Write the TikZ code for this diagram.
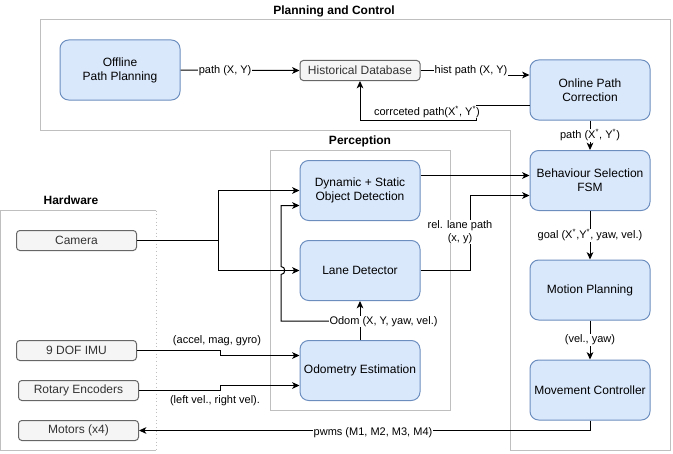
\documentclass[tikz,border=0pt]{standalone}
\usepackage{fontspec}
\setmainfont{Liberation Sans}
\usetikzlibrary{arrows.meta,calc}
\definecolor{bluefill}{HTML}{DAE8FC}
\definecolor{blueline}{HTML}{6C8EBF}
\definecolor{grayfill}{HTML}{F5F5F5}
\definecolor{grayline}{HTML}{666666}
\definecolor{graytext}{HTML}{333333}
\definecolor{contline}{HTML}{BFBFBF}
\tikzset{
  bluebox/.style={draw=blueline, fill=bluefill, rounded corners=6.5pt, line width=0.75pt,
    minimum width=90pt, minimum height=45pt, inner sep=0pt, align=center,
    font=\fontsize{9}{10.5}\selectfont},
  graybox/.style={draw=grayline, fill=grayfill, rounded corners=2.5pt, line width=0.75pt,
    minimum width=90pt, minimum height=15pt, inner sep=0pt, align=center, text=graytext,
    font=\fontsize{9}{10.5}\selectfont},
  cont/.style={draw=contline, line width=0.75pt},
  title/.style={font=\bfseries\fontsize{9}{10.5}\selectfont},
  arr/.style={draw=black, line width=0.75pt, -{Stealth[length=5.5pt,width=5pt,inset=1.5pt]}},
  ln/.style={draw=black, line width=0.75pt},
  lbl/.style={fill=white, inner sep=0.6pt, align=center, font=\fontsize{8.25}{9.5}\selectfont},
}
\newcommand{\st}{\textsuperscript{*}}
\begin{document}
\begin{tikzpicture}[x=0.75pt, y=-0.75pt]
\useasboundingbox (0,0) rectangle (673,453);
% containers
\draw[cont] (40,20) -- (670,20) -- (670,450) -- (510,450) -- (510,130.5) -- (40,130.5) -- cycle;
\draw[cont] (270.5,150.5) rectangle (450.5,410);
\draw[cont] (156,210.5) -- (0.5,210.5) -- (0.5,450) -- (156,450);
\draw[cont, dotted] (156,210.5) -- (156,450);
\node[title] (tpc) at (334,11) {Planning and Control};
\node[title] (tper) at (360,141) {Perception};
\node[title] (thw) at (71,200.5) {Hardware};
% nodes
\node[bluebox] (off) at (120,70) {Offline\\Path Planning};
\node[graybox] (db) at (360,70.5) {Historical Database};
\node[bluebox] (onl) at (590,90) {Online Path\\Correction};
\node[bluebox] (beh) at (590,180.5) {Behaviour Selection\\FSM};
\node[bluebox] (mot) at (590,290) {Motion Planning};
\node[bluebox] (mov) at (590,390) {Movement Controller};
\node[bluebox] (obj) at (360,190.5) {Dynamic + Static\\Object Detection};
\node[bluebox] (lane) at (360,270.5) {Lane Detector};
\node[bluebox] (odo) at (360,370.5) {Odometry Estimation};
\node[graybox] (cam) at (76.5,240.5) {Camera};
\node[graybox] (imu) at (76.5,350.5) {9 DOF IMU};
\node[graybox] (rot) at (78.5,390.5) {Rotary Encoders};
\node[graybox] (mtr) at (78.5,430.5) {Motors (x4)};
% junction coordinates
\coordinate (jdb) at (470,70.5);
\coordinate (jdb2) at (470,75);
\coordinate (jc1) at (476,105);
\coordinate (jc2) at (476,120);
\coordinate (jc3) at (360,120);
\coordinate (jmv) at (590,430.5);
\coordinate (jcam) at (218,240.5);
\coordinate (jod) at (360,321);
\coordinate (jod1) at (281,321);
\coordinate (jh1) at (281,274.5);
\coordinate (jh2) at (281,266.5);
\coordinate (jod2) at (281,205.5);
\coordinate (jl1) at (470,270.5);
\coordinate (jl2) at (470,195.5);
\coordinate (ji1) at (220,350.5);
\coordinate (ji2) at (220,355.5);
\coordinate (jr1) at (220,390.5);
\coordinate (jr2) at (220,385.5);
% edges
\draw[arr] (off.east) -- node[lbl, pos=0.375] (l1) {path (X, Y)} (db.west);
\draw[arr] (db.east) -- (jdb) -- (jdb2) -- ($(onl.west)+(0,-15)$);
\node[lbl] (l2) at (471,71) {hist path (X, Y)};
\draw[arr] ($(onl.west)+(0,15)$) -- (jc1) -- (jc2) -- (jc3) -- (db.south);
\node[lbl] (l3) at (427,112) {corrceted path(X\st, Y\st)};
\draw[arr] (onl.south) -- node[lbl] (l4) {path (X\st, Y\st)} (beh.north);
\draw[arr] (beh.south) -- node[lbl] (l5) {goal (X\st,Y\st, yaw, vel.)} (mot.north);
\draw[arr] (mot.south) -- node[lbl] (l6) {(vel., yaw)} (mov.north);
\draw[arr] (mov.south) -- (jmv) -- (mtr.east);
\node[lbl] (l7) at (373,432.5) {pwms (M1, M2, M3, M4)};
\draw[arr] (cam.east) -- (jcam) |- (obj.west);
\draw[arr] (jcam) |- (lane.west);
\draw[arr] (odo.north) -- (lane.south);
\draw[arr] (jod) -- (jod1) -- (jh1) .. controls (286,274.5) and (286,266.5) .. (jh2) -- (jod2) -- ($(obj.west)+(0,15)$);
\node[lbl] (l8) at (383.5,321.5) {Odom (X, Y, yaw, vel.)};
\draw[arr] ($(obj.east)+(0,-15)$) -- ($(beh.west)+(0,-5)$);
\draw[arr] (lane.east) -- (jl1) -- (jl2) -- ($(beh.west)+(0,15)$);
\node[lbl] (l9) at (460,232) {rel. lane path\\(x, y)};
\draw[arr] (imu.east) -- (ji1) -- (ji2) -- ($(odo.west)+(0,-15)$);
\node[lbl] (l10) at (217,340.5) {(accel, mag, gyro)};
\draw[arr] (rot.east) -- (jr1) -- (jr2) -- ($(odo.west)+(0,15)$);
\node[lbl] (l11) at (215,401) {(left vel., right vel).};
\end{tikzpicture}
\end{document}
